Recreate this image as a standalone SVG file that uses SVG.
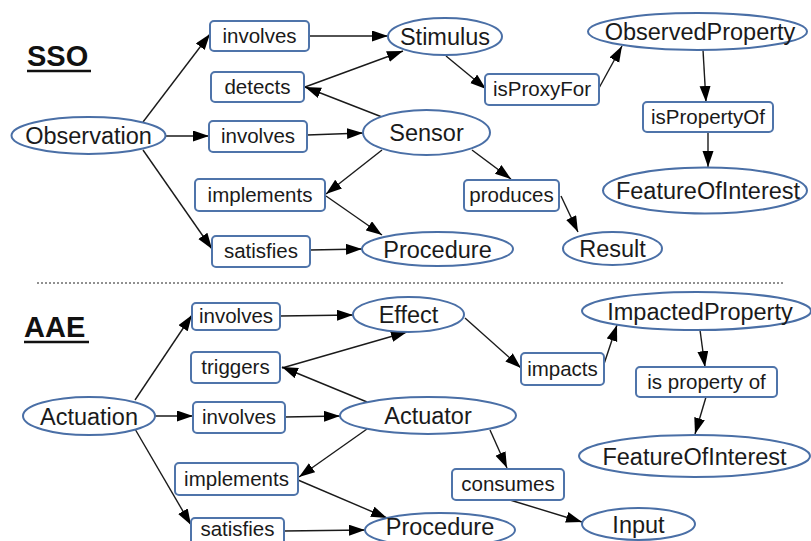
<svg xmlns="http://www.w3.org/2000/svg" width="811" height="541" viewBox="0 0 811 541">
<defs>
<marker id="arr" markerUnits="userSpaceOnUse" markerWidth="16" markerHeight="12" refX="16" refY="5.5" orient="auto">
<path d="M0,0 L16,5.5 L0,11 z" fill="#000"/>
</marker>
<style>
.e{fill:#fff;stroke:#4a6fa6;stroke-width:2}
.b{fill:#fff;stroke:#4f74aa;stroke-width:2}
.et{font-family:"Liberation Sans",Arial,sans-serif;font-size:23.5px;fill:#1a1a1a;text-anchor:middle}
.bt{font-family:"Liberation Sans",Arial,sans-serif;font-size:20.5px;fill:#1a1a1a;text-anchor:middle}
.tt{font-family:"Liberation Sans",Arial,sans-serif;font-size:29px;font-weight:bold;fill:#111}
.c line{stroke:#1a1a1a;stroke-width:1.4;marker-end:url(#arr)}
</style>
</defs>
<rect width="811" height="541" fill="#fff"/>

<g id="titles">
<text class="tt" x="27" y="66">SSO</text>
<line x1="27" y1="71" x2="91" y2="71" stroke="#111" stroke-width="2.5"/>
<text class="tt" x="24" y="337">AAE</text>
<line x1="24" y1="342" x2="89" y2="342" stroke="#111" stroke-width="2.5"/>
<line x1="37" y1="283" x2="785" y2="283" stroke="#222" stroke-width="1" stroke-dasharray="2,2"/>
</g>

<g class="c" id="connectors">
<line x1="143" y1="122" x2="210" y2="34"/>
<line x1="166" y1="136" x2="209" y2="136"/>
<line x1="143" y1="150" x2="212" y2="249"/>
<line x1="309" y1="36" x2="388" y2="36"/>
<line x1="305" y1="87" x2="403" y2="51"/>
<line x1="382" y1="117" x2="305" y2="87"/>
<line x1="307" y1="135" x2="363" y2="133"/>
<line x1="382" y1="150" x2="326" y2="194"/>
<line x1="326" y1="196" x2="382" y2="235"/>
<line x1="310" y1="250" x2="362" y2="249"/>
<line x1="446" y1="56" x2="486" y2="89"/>
<line x1="599" y1="88" x2="622" y2="46"/>
<line x1="472" y1="150" x2="511" y2="179"/>
<line x1="561" y1="196" x2="578" y2="232"/>
<line x1="703" y1="50" x2="706" y2="102"/>
<line x1="708" y1="132" x2="708" y2="167"/>

<line x1="135" y1="400" x2="192" y2="315"/>
<line x1="155" y1="416" x2="193" y2="416"/>
<line x1="135" y1="429" x2="191" y2="525"/>
<line x1="280" y1="316" x2="353" y2="315"/>
<line x1="282" y1="368" x2="407" y2="332"/>
<line x1="367" y1="402" x2="282" y2="367"/>
<line x1="285" y1="417" x2="340" y2="416"/>
<line x1="367" y1="429" x2="299" y2="477"/>
<line x1="298" y1="480" x2="387" y2="518"/>
<line x1="284" y1="531" x2="365" y2="530"/>
<line x1="465" y1="318" x2="521" y2="368"/>
<line x1="604" y1="364" x2="617" y2="325"/>
<line x1="490" y1="430" x2="507" y2="468"/>
<line x1="510" y1="500" x2="582" y2="522"/>
<line x1="700" y1="330" x2="705" y2="367"/>
<line x1="706" y1="397" x2="695" y2="434"/>
</g>

<!-- SSO nodes -->
<g id="sso-observation"><ellipse class="e" cx="88.5" cy="135.5" rx="77" ry="18.5"/><text class="et" x="88.5" y="144">Observation</text></g>
<g id="sso-stimulus"><ellipse class="e" cx="445" cy="36.5" rx="57" ry="18.5"/><text class="et" x="445" y="45">Stimulus</text></g>
<g id="sso-sensor"><ellipse class="e" cx="426.5" cy="132.5" rx="63.5" ry="22.5"/><text class="et" x="426.5" y="141">Sensor</text></g>
<g id="sso-procedure"><ellipse class="e" cx="437.5" cy="249" rx="75.5" ry="17"/><text class="et" x="437.5" y="257.5">Procedure</text></g>
<g id="sso-observedproperty"><ellipse class="e" cx="697.5" cy="31.5" rx="109.5" ry="18.5"/><text class="et" x="700" y="40">ObservedProperty</text></g>
<g id="sso-featureofinterest"><ellipse class="e" cx="705" cy="190.5" rx="102" ry="23"/><text class="et" x="708" y="199">FeatureOfInterest</text></g>
<g id="sso-result"><ellipse class="e" cx="612.5" cy="248.5" rx="49.5" ry="16.5"/><text class="et" x="612.5" y="257">Result</text></g>

<g id="sso-involves1"><rect class="b" x="210" y="21" width="99" height="30" rx="4"/><text class="bt" x="259.5" y="43">involves</text></g>
<g id="sso-detects"><rect class="b" x="211" y="72" width="93" height="30" rx="4"/><text class="bt" x="257.5" y="94">detects</text></g>
<g id="sso-involves2"><rect class="b" x="209" y="121" width="98" height="31" rx="4"/><text class="bt" x="258" y="143">involves</text></g>
<g id="sso-implements"><rect class="b" x="195" y="179" width="130" height="32" rx="4"/><text class="bt" x="260" y="202">implements</text></g>
<g id="sso-satisfies"><rect class="b" x="212" y="236" width="98" height="31" rx="4"/><text class="bt" x="261" y="258">satisfies</text></g>
<g id="sso-isproxyfor"><rect class="b" x="485" y="74" width="114" height="31" rx="4"/><text class="bt" x="542" y="96">isProxyFor</text></g>
<g id="sso-produces"><rect class="b" x="464" y="180" width="95" height="31" rx="4"/><text class="bt" x="511.5" y="202">produces</text></g>
<g id="sso-ispropertyof"><rect class="b" x="643" y="102" width="130" height="30" rx="4"/><text class="bt" x="708" y="124">isPropertyOf</text></g>

<!-- AAE nodes -->
<g id="aae-actuation"><ellipse class="e" cx="89" cy="416" rx="66" ry="19"/><text class="et" x="89" y="424.5">Actuation</text></g>
<g id="aae-effect"><ellipse class="e" cx="408.5" cy="314.5" rx="55.5" ry="17.5"/><text class="et" x="408.5" y="323">Effect</text></g>
<g id="aae-actuator"><ellipse class="e" cx="428" cy="415.5" rx="88" ry="18.5"/><text class="et" x="428" y="424">Actuator</text></g>
<g id="aae-procedure"><ellipse class="e" cx="440" cy="530" rx="75" ry="17"/><text class="et" x="440" y="535">Procedure</text></g>
<g id="aae-impactedproperty"><ellipse class="e" cx="696.5" cy="311" rx="114.5" ry="19"/><text class="et" x="700" y="319.5">ImpactedProperty</text></g>
<g id="aae-featureofinterest"><ellipse class="e" cx="694.5" cy="456" rx="115.5" ry="21"/><text class="et" x="694.5" y="464.5">FeatureOfInterest</text></g>
<g id="aae-input"><ellipse class="e" cx="638.5" cy="524" rx="56.5" ry="16"/><text class="et" x="638.5" y="532.5">Input</text></g>

<g id="aae-involves1"><rect class="b" x="192" y="303" width="88" height="27" rx="4"/><text class="bt" x="236" y="323">involves</text></g>
<g id="aae-triggers"><rect class="b" x="191" y="352" width="89" height="31" rx="4"/><text class="bt" x="235.5" y="374">triggers</text></g>
<g id="aae-involves2"><rect class="b" x="193" y="402" width="92" height="31" rx="4"/><text class="bt" x="239" y="424">involves</text></g>
<g id="aae-implements"><rect class="b" x="175" y="463" width="123" height="32" rx="4"/><text class="bt" x="236.5" y="486">implements</text></g>
<g id="aae-satisfies"><rect class="b" x="191" y="518" width="93" height="30" rx="4"/><text class="bt" x="237.5" y="535.5">satisfies</text></g>
<g id="aae-impacts"><rect class="b" x="521" y="353" width="83" height="32" rx="4"/><text class="bt" x="562.5" y="376">impacts</text></g>
<g id="aae-consumes"><rect class="b" x="452" y="469" width="112" height="31" rx="4"/><text class="bt" x="508" y="491">consumes</text></g>
<g id="aae-ispropertyof"><rect class="b" x="636" y="367" width="141" height="30" rx="4"/><text class="bt" x="706.5" y="389">is property of</text></g>
</svg>
